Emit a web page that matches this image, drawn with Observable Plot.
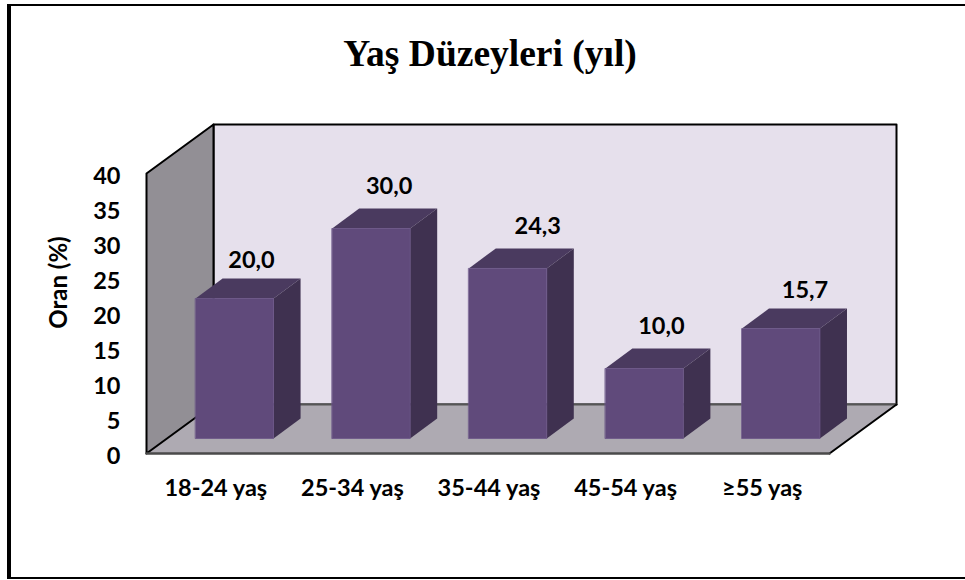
<!DOCTYPE html>
<html lang="tr">
<head>
<meta charset="utf-8">
<script src="https://cdn.jsdelivr.net/npm/d3@7"></script>
<script src="https://cdn.jsdelivr.net/npm/@observablehq/plot@0.6"></script>
<style>
  html, body { margin: 0; padding: 0; background: #fff; overflow: hidden; }
  #page { position: relative; width: 965px; height: 580px; }
  #frame { position: absolute; left: 7px; top: 4px; right: -10px; bottom: 1px; border: solid #000; border-width: 2.5px 4px 2.5px 4px; pointer-events: none; }
  #title { height: 100px; text-align: center; padding-left: 15px; font: bold 37.5px/108px "Liberation Serif", serif; color: #000; }
</style>
</head>
<body>
<div id="page">
  <div id="frame"></div>
  <div id="title">Yaş Düzeyleri (yıl)</div>
  <div id="chart"></div>
</div>
<script>
const categories = ["18-24 yaş", "25-34 yaş", "35-44 yaş", "45-54 yaş", "≥55 yaş"];
const values = [20.0, 30.0, 24.3, 10.0, 15.7];
const yTicks = [0, 5, 10, 15, 20, 25, 30, 35, 40];

// Pseudo-3D geometry, in the chart's own units (x: categories, y: percent)
const Y_MAX = 40;
const WALL_DX = 0.4905, WALL_DY = 7;     // depth of the box
const BAR_LEFT = 0.359, BAR_W = 0.571;   // bar front, within its category
const BASE = 2.14;                       // bar foot above the front edge of the floor
const BAR_DX = 0.198, BAR_DY = 2.86;     // depth of a bar
const N = categories.length;

const poly = (id, pts) => pts.map(([x, y]) => ({id, x, y}));
const face = (rows, fill, opts = {}) =>
  Plot.line(rows, {x: "x", y: "y", z: "id", curve: "linear-closed", fill, stroke: "none", ...opts});

const backWall = poly("back", [[WALL_DX, WALL_DY], [N + WALL_DX, WALL_DY], [N + WALL_DX, Y_MAX + WALL_DY], [WALL_DX, Y_MAX + WALL_DY]]);
const leftWall = poly("left", [[0, 0], [WALL_DX, WALL_DY], [WALL_DX, Y_MAX + WALL_DY], [0, Y_MAX]]);
const floor = poly("floor", [[0, 0], [N, 0], [N + WALL_DX, WALL_DY], [WALL_DX, WALL_DY]]);

const bars = values.map((v, i) => ({i, v, x0: i + BAR_LEFT, x1: i + BAR_LEFT + BAR_W, y0: BASE, y1: BASE + v}));
const fronts = bars.flatMap(b => poly("f" + b.i, [[b.x0, b.y0], [b.x1, b.y0], [b.x1, b.y1], [b.x0, b.y1]]));
const tops = bars.flatMap(b => poly("t" + b.i, [[b.x0, b.y1], [b.x1, b.y1], [b.x1 + BAR_DX, b.y1 + BAR_DY], [b.x0 + BAR_DX, b.y1 + BAR_DY]]));
const sides = bars.flatMap(b => poly("s" + b.i, [[b.x1, b.y0], [b.x1 + BAR_DX, b.y0 + BAR_DY], [b.x1 + BAR_DX, b.y1 + BAR_DY], [b.x1, b.y1]]));

// hand-placed value labels of the original, pixel nudges from each bar's top centre
const labelDx = [17, 18, 30, 17, 24];
const labelDy = [-38, -42, -42, -42, -38];

const FONT = "Lato, 'Open Sans', sans-serif";
const TICK_SIZE = 23.5;

const plot = Plot.plot({
  width: 965,
  height: 480,
  marginLeft: 146,
  marginRight: 136,
  marginTop: 73,
  marginBottom: 127,
  style: {fontFamily: FONT, background: "transparent", overflow: "visible"},
  x: {domain: [0, N], label: null},
  y: {domain: [0, Y_MAX], label: null},
  marks: [
    face(backWall, "#e6e0ec", {stroke: "#000", strokeWidth: 2}),
    face(floor, "#aeaab2"),
    face(leftWall, "#928f95", {stroke: "#000", strokeWidth: 2}),
    Plot.line(poly("backedge", [[WALL_DX, WALL_DY], [N + WALL_DX, WALL_DY]]), {x: "x", y: "y", stroke: "#555", strokeWidth: 2}),
    Plot.line(poly("rightedge", [[N, 0], [N + WALL_DX, WALL_DY]]), {x: "x", y: "y", stroke: "#000", strokeWidth: 2}),
    Plot.line(poly("frontedge", [[0, 0], [N, 0]]), {x: "x", y: "y", stroke: "#4a4a4a", strokeWidth: 2.5}),
    face(tops, "#4a3a5f"),
    face(sides, "#3f3150"),
    face(fronts, "#604a7b", {stroke: "#6b5688", strokeWidth: 0.8}),
    Plot.text(bars, {
      x: b => (b.x0 + b.x1) / 2,
      y: "y1",
      text: b => b.v.toFixed(1).replace(".", ","),
      fontSize: TICK_SIZE,
      fontWeight: 700,
      fill: "#000",
      render(index, scales, channels, dims, ctx, next) {
        const g = next(index, scales, channels, dims, ctx);
        d3.select(g).selectAll("text").each(function (_, k) {
          const i = index[k];
          d3.select(this).attr("transform", `translate(${channels.x[i] + labelDx[i]},${channels.y[i] + labelDy[i]})`);
        });
        return g;
      }
    }),
    Plot.axisY({
      ticks: yTicks,
      tickSize: 0,
      tickPadding: 26,
      dy: 3,
      fontSize: TICK_SIZE,
      fontWeight: 700,
      fill: "#000",
      label: null
    }),
    Plot.text(["Oran (%)"], {
      frameAnchor: "left",
      textAnchor: "middle",
      rotate: -90,
      dx: -87,
      dy: -31,
      fontSize: 24,
      fontWeight: 700,
      fill: "#000"
    }),
    Plot.axisX({
      ticks: categories.map((_, i) => i + 0.5),
      tickFormat: d => categories[Math.round(d - 0.5)],
      tickSize: 0,
      tickPadding: 26,
      dx: 1,
      fontSize: TICK_SIZE,
      fontWeight: 700,
      fill: "#000",
      label: null
    })
  ]
});
document.getElementById("chart").appendChild(plot);
</script>
</body>
</html>
